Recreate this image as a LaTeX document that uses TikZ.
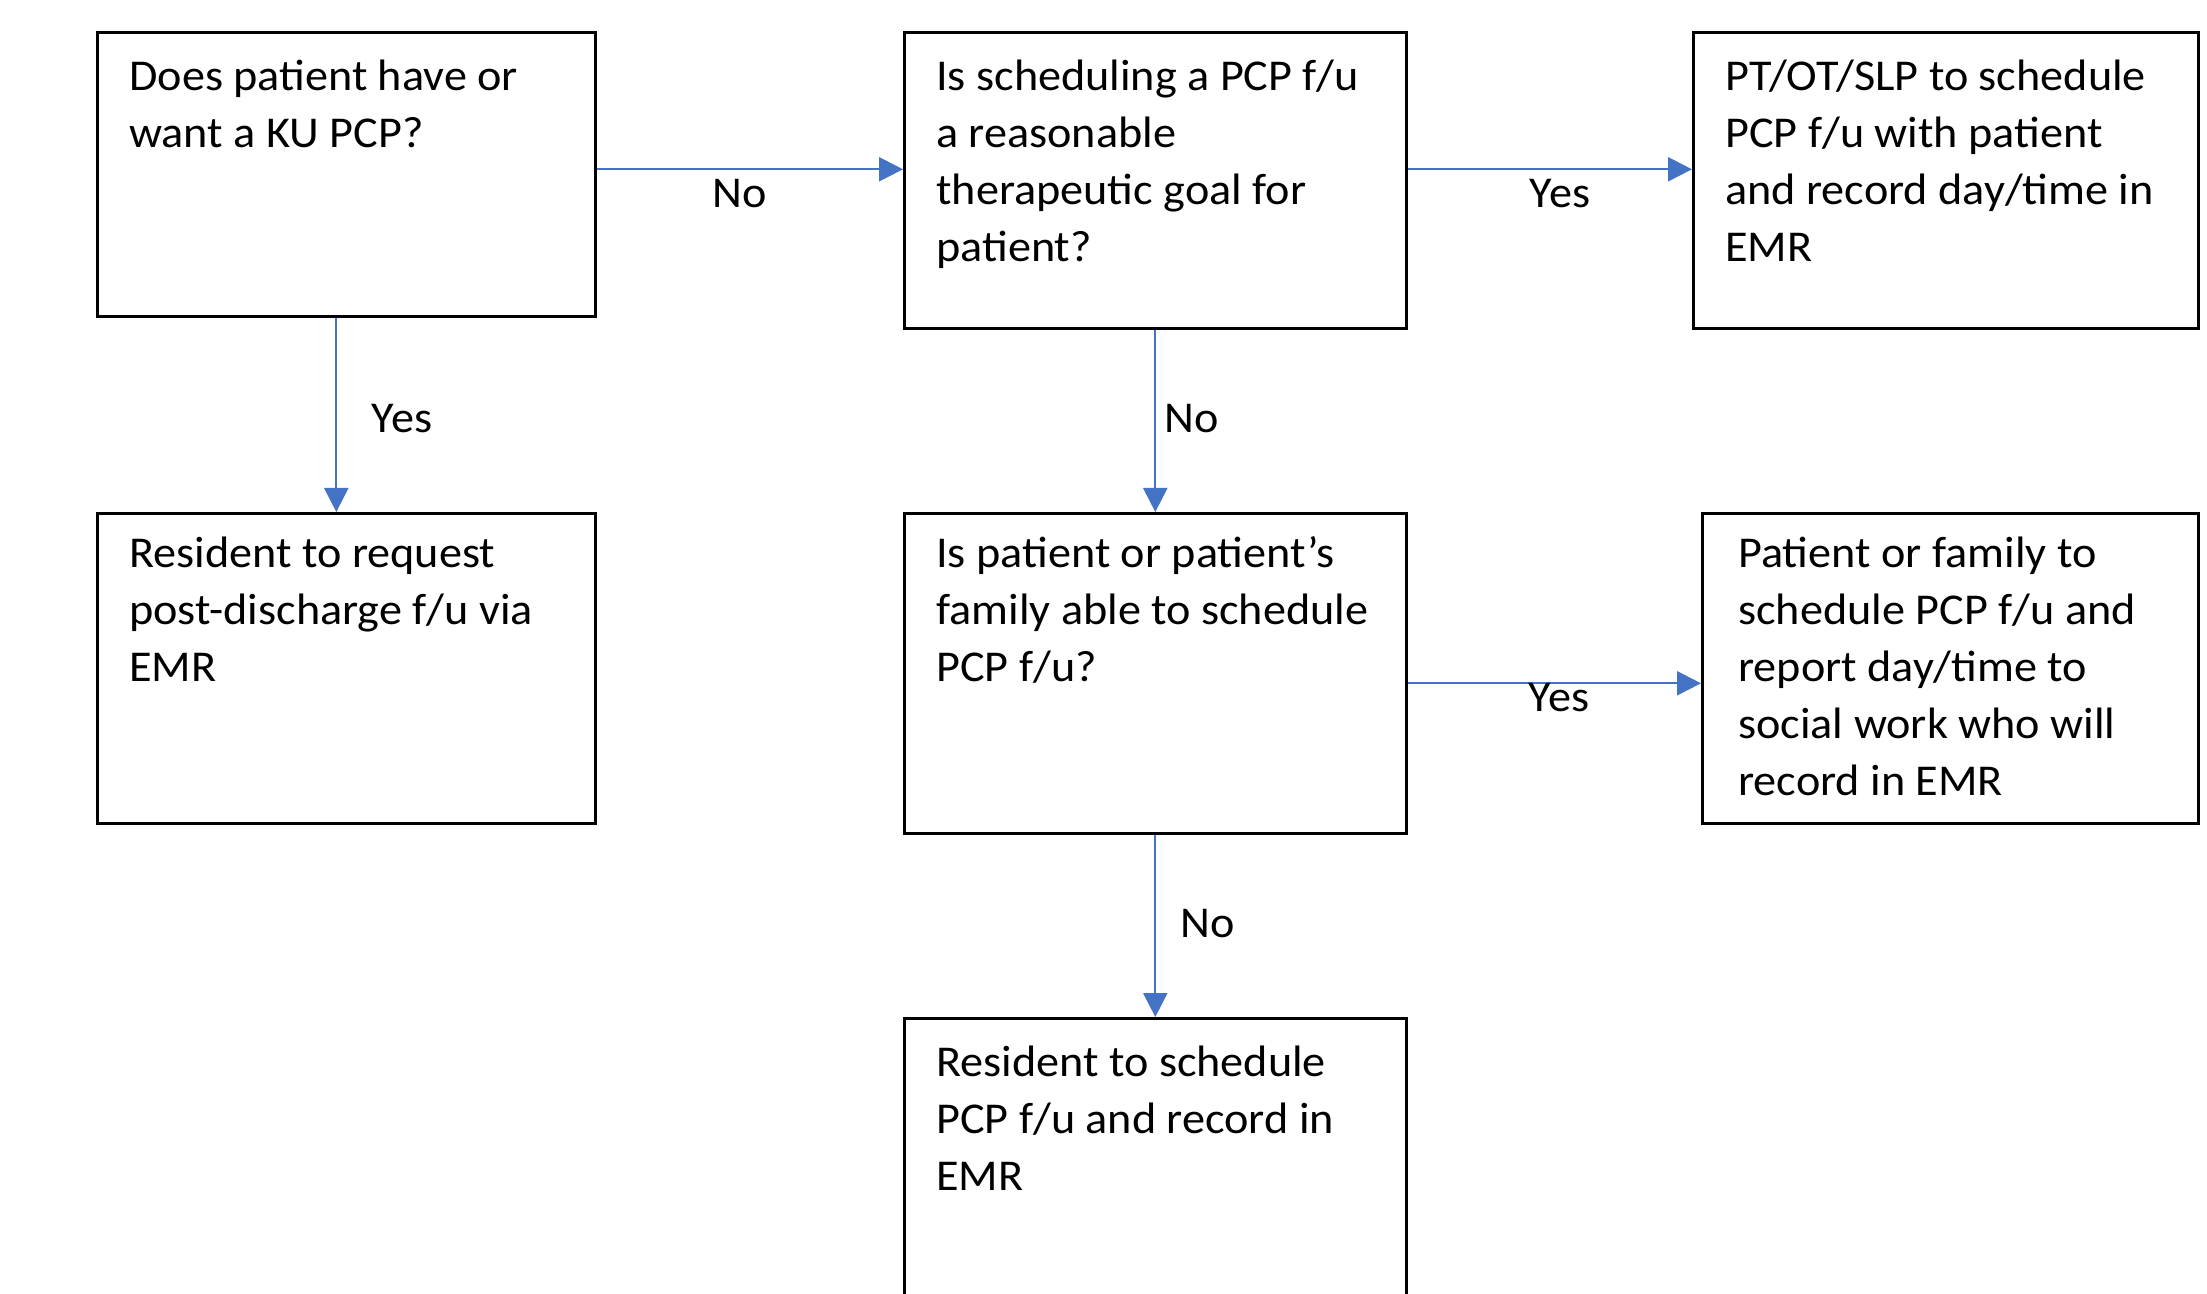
\documentclass[tikz,border=0pt]{standalone}
\usepackage{fontspec}
\setmainfont{Carlito}[FakeStretch=1.05]
\usetikzlibrary{arrows.meta}
\definecolor{arrowblue}{HTML}{4472C4}
\newcommand\flowtext[4]{\parbox[t][#2][t]{#1}{\raggedright\rule{0pt}{#3}#4}}
\tikzset{
  flowbox/.style={draw=black, line width=1.3pt, inner ysep=0pt, inner xsep=16pt, anchor=north west,
    font=\fontsize{22pt}{28.5pt}\selectfont},
  arr/.style={draw=arrowblue, line width=1.1pt, -{Triangle[length=12pt,width=12pt]}},
  lbl/.style={inner sep=0pt, anchor=center, font=\fontsize{22pt}{28.5pt}\selectfont}
}
\begin{document}
\begin{tikzpicture}[x=0.5pt,y=-0.5pt]
\useasboundingbox (0,0) rectangle (2207,1294);
\fill[white] (0,0) rectangle (2207,1294);

\node[flowbox] (b1) at (96,31) {\flowtext{217pt}{142pt}{29pt}{Does patient have or\\want a KU PCP?}};
\node[flowbox] (b2) at (903,31) {\flowtext{219pt}{148pt}{29pt}{Is scheduling a PCP f/u\\a reasonable\\therapeutic goal for\\patient?}};
\node[flowbox] (b3) at (1692,31) {\flowtext{220.5pt}{148pt}{29pt}{PT/OT/SLP to schedule\\PCP f/u with patient\\and record day/time in\\EMR}};
\node[flowbox] (b4) at (96,512) {\flowtext{217pt}{155pt}{27pt}{Resident to request\\post-discharge f/u via\\EMR}};
\node[flowbox] (b5) at (903,512) {\flowtext{219pt}{160pt}{27pt}{Is patient or patient’s\\family able to schedule\\PCP f/u?}};
\node[flowbox, inner xsep=18pt] (b6) at (1701,512) {\flowtext{212pt}{155pt}{27pt}{Patient or family to\\schedule PCP f/u and\\report day/time to\\social work who will\\record in EMR}};
\node[flowbox] (b7) at (903,1017) {\flowtext{219pt}{156.5pt}{29pt}{Resident to schedule\\PCP f/u and record in\\EMR}};

\draw[arr] ([yshift=2.5pt]b1.east) -- ([yshift=2.5pt]b1.east -| b2.west);
\draw[arr] ([yshift=2.5pt]b1.east -| b2.east) -- ([yshift=2.5pt]b1.east -| b3.west);
\draw[arr] ([xshift=-5pt]b1.south) -- ([xshift=-5pt]b1.south |- b4.north);
\draw[arr] (b2.south) -- (b5.north);
\draw[arr] ([yshift=-5pt]b5.east) -- ([yshift=-5pt]b5.east -| b6.west);
\draw[arr] (b5.south) -- (b7.north);

\node[lbl] (l1) at (740,194) {No};
\node[lbl] (l2) at (1560,194) {Yes};
\node[lbl] (l3) at (402,419) {Yes};
\node[lbl] (l4) at (1192,419) {No};
\node[lbl] (l5) at (1559,698) {Yes};
\node[lbl] (l6) at (1208,924) {No};
\end{tikzpicture}
\end{document}
